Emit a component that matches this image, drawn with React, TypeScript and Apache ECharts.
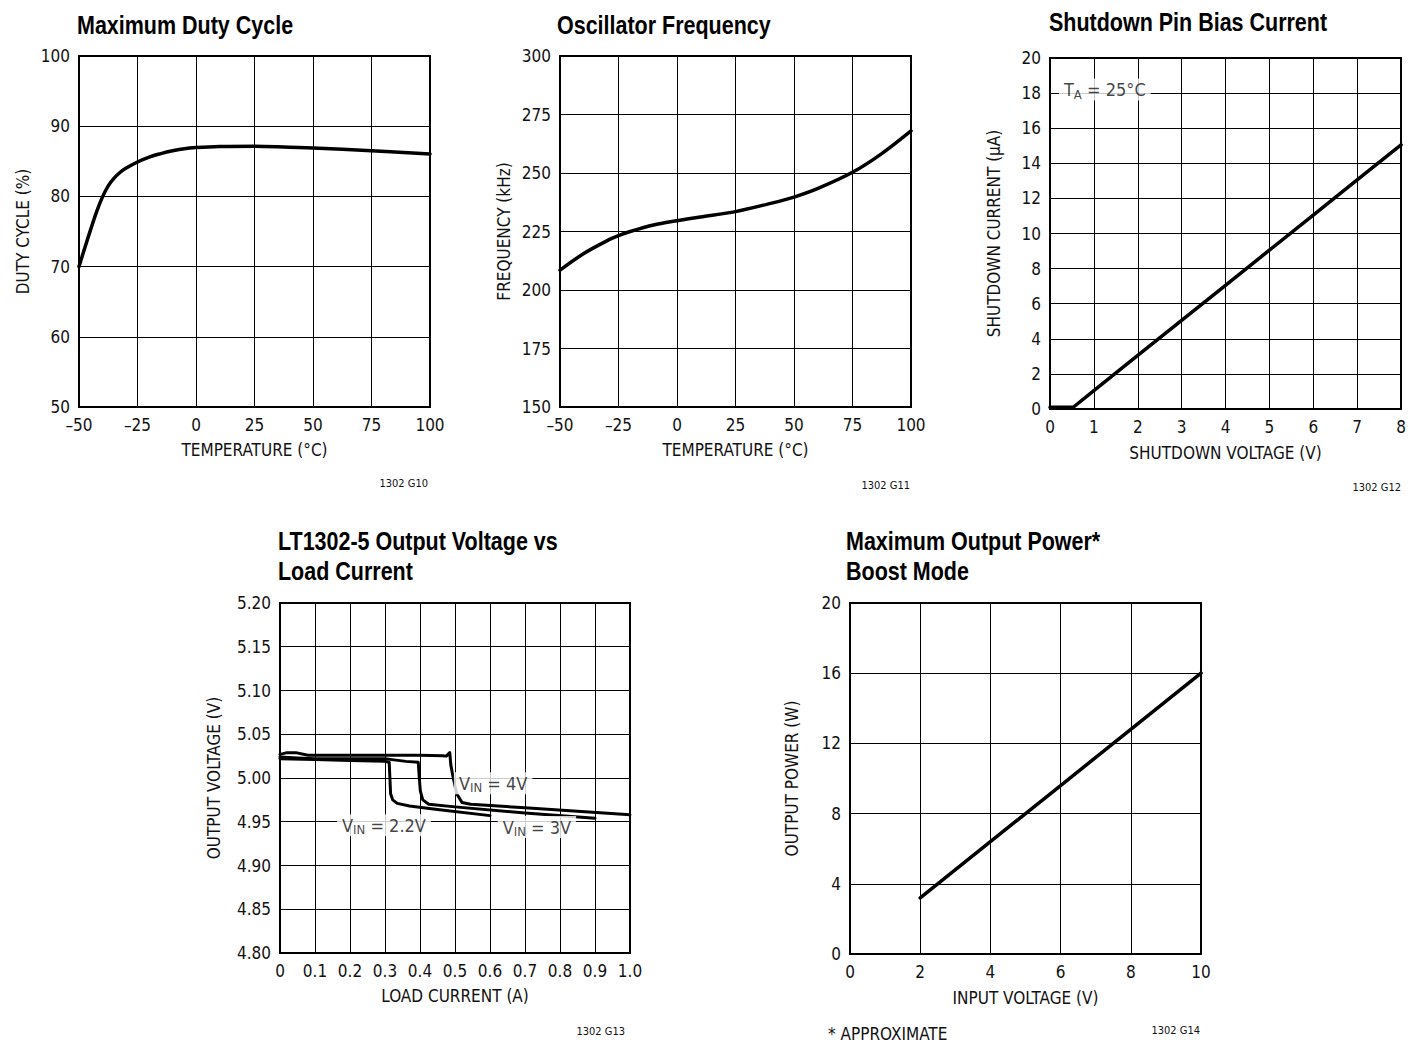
import { useEffect, useRef } from "react";
import * as echarts from "echarts";

const FONT = '"DejaVu Sans Condensed", "Liberation Sans Narrow", "Arial Narrow", sans-serif';
const TITLE_FONT = '"Liberation Sans", Arial, Helvetica, sans-serif';
const INK = "#111";

// Maximum duty cycle vs temperature
const dutyTemp = [-50, -47.5, -45, -42.5, -40, -37.5, -35, -32.5, -30, -25, -20, -15, -10, -5, 0, 10, 25, 40, 50, 75, 100];
const dutyCycle = [70, 72.7, 75.3, 77.8, 79.9, 81.5, 82.6, 83.4, 84.0, 84.9, 85.6, 86.1, 86.5, 86.8, 86.95, 87.1, 87.15, 87.0, 86.9, 86.5, 86.05];

// Oscillator frequency vs temperature
const oscTemp = [-50, -40, -30, -25, -20, -10, 0, 10, 25, 40, 50, 60, 75, 87.5, 100];
const oscFreq = [208.5, 215.5, 221, 223.2, 225, 227.8, 229.6, 231.2, 233.5, 237, 239.7, 243.3, 250.3, 258.3, 268];

// Shutdown pin bias current vs shutdown voltage
const sdVolt = [0, 0.53, 1, 2, 3, 4, 5, 6, 7, 8];
const sdCurrent = [0.1, 0.1, 1.05, 3.05, 5.05, 7.05, 9.05, 11.05, 13.05, 15.05];

// LT1302-5 output voltage vs load current
const load22 = [0, 0.1, 0.2, 0.3, 0.312, 0.314, 0.316, 0.322, 0.335, 0.37, 0.45, 0.6];
const vout22 = [5.022, 5.021, 5.02, 5.019, 5.018, 5.0, 4.982, 4.975, 4.971, 4.968, 4.964, 4.957];
const load3 = [0, 0.05, 0.1, 0.2, 0.3, 0.32, 0.36, 0.395, 0.398, 0.401, 0.408, 0.425, 0.5, 0.7, 0.9];
const vout3 = [5.024, 5.023, 5.022, 5.022, 5.022, 5.021, 5.019, 5.018, 5.0, 4.985, 4.975, 4.97, 4.967, 4.96, 4.954];
const load4 = [0, 0.02, 0.045, 0.08, 0.2, 0.3, 0.4, 0.465, 0.475, 0.485, 0.488, 0.495, 0.505, 0.52, 0.545, 0.7, 0.85, 1.0];
const vout4 = [5.027, 5.029, 5.029, 5.026, 5.026, 5.026, 5.026, 5.0255, 5.025, 5.029, 5.015, 5.0, 4.982, 4.972, 4.97, 4.966, 4.962, 4.958];

// Maximum output power (boost mode) vs input voltage
const boostVin = [2, 4, 6, 8, 10];
const boostPower = [3.2, 6.4, 9.6, 12.8, 16.0];

// Curve annotations
const vinLabelX = [0.609, 0.297, 0.734];
const vinLabelY = [4.994, 4.946, 4.944];
const vinLabelText = ["4V", "2.2V", "3V"];
const taLabel = [1.25, 18.2];

const zip = (xs: number[], ys: number[]) => xs.map((x, i) => [x, ys[i]]);

const minusFmt = (v: number) => (v < 0 ? "\u2013" + Math.abs(v) : String(v));

function App() {
  const ref = useRef<HTMLDivElement>(null);

  useEffect(() => {
    if (!ref.current) return;
    const chart = echarts.init(ref.current, undefined, { renderer: "svg" });

    const grids = [
      { left: 79, top: 56, width: 351, height: 351 },
      { left: 560, top: 56, width: 351, height: 351 },
      { left: 1050, top: 58, width: 351, height: 351 },
      { left: 280, top: 603, width: 350, height: 350 },
      { left: 850, top: 603, width: 351, height: 351 },
    ].map((g) => ({ ...g, show: true, borderColor: "#000", borderWidth: 2, backgroundColor: "transparent" }));

    const axis = (
      gridIndex: number,
      min: number,
      max: number,
      interval: number,
      name: string,
      nameGap: number,
      formatter?: (v: number) => string
    ) => ({
      type: "value",
      gridIndex,
      min,
      max,
      interval,
      name,
      nameLocation: "middle",
      nameGap,
      nameTextStyle: { color: INK, fontFamily: FONT, fontSize: 17 },
      axisLine: { show: false },
      axisTick: { show: false },
      splitLine: { show: true, lineStyle: { color: "#000", width: 1 } },
      axisLabel: { color: INK, fontFamily: FONT, fontSize: 17, margin: 9, formatter },
    });

    const xAxis = [
      axis(0, -50, 100, 25, "TEMPERATURE (\u00B0C)", 34, minusFmt),
      axis(1, -50, 100, 25, "TEMPERATURE (\u00B0C)", 34, minusFmt),
      axis(2, 0, 8, 1, "SHUTDOWN VOLTAGE (V)", 35),
      axis(3, 0, 1, 0.1, "LOAD CURRENT (A)", 34, (v: number) => (v === 0 ? "0" : v.toFixed(1))),
      axis(4, 0, 10, 2, "INPUT VOLTAGE (V)", 35),
    ];
    const yAxis = [
      axis(0, 50, 100, 10, "DUTY CYCLE (%)", 48),
      axis(1, 150, 300, 25, "FREQUENCY (kHz)", 48),
      axis(2, 0, 20, 2, "SHUTDOWN CURRENT (\u00B5A)", 48),
      axis(3, 4.8, 5.2, 0.05, "OUTPUT VOLTAGE (V)", 58, (v: number) => v.toFixed(2)),
      axis(4, 0, 20, 4, "OUTPUT POWER (W)", 50),
    ];

    const curve = (idx: number, data: number[][], width: number, smooth: boolean | number) => ({
      type: "line",
      xAxisIndex: idx,
      yAxisIndex: idx,
      data,
      smooth,
      symbol: "none",
      silent: true,
      lineStyle: { color: "#000", width, cap: "round", join: "round" },
      z: 3,
    });

    const subRich = {
      t: { fontFamily: FONT, fontSize: 18, color: INK, lineHeight: 22 },
      s: { fontFamily: FONT, fontSize: 13, color: INK, lineHeight: 22, padding: [9, 0, 0, 0] },
    };

    const annot = (idx: number, data: number[][], texts: string[], pattern: string) => ({
      type: "scatter",
      xAxisIndex: idx,
      yAxisIndex: idx,
      symbolSize: 0,
      silent: true,
      z: 5,
      data: data.map((d, i) => ({ value: d, name: texts[i] })),
      label: {
        show: true,
        position: "inside",
        backgroundColor: "#fff",
        padding: [0, 5],
        formatter: (p: any) => pattern.replace("%s", p.name),
        rich: subRich,
      },
    });

    const series = [
      curve(0, zip(dutyTemp, dutyCycle), 3.5, 0.4),
      curve(1, zip(oscTemp, oscFreq), 3.5, 0.3),
      curve(2, zip(sdVolt, sdCurrent), 3.5, false),
      curve(3, zip(load22, vout22), 3, false),
      curve(3, zip(load3, vout3), 3, false),
      curve(3, zip(load4, vout4), 3, false),
      curve(4, zip(boostVin, boostPower), 3.5, false),
      annot(3, zip(vinLabelX, vinLabelY), vinLabelText, "{t|V}{s|IN}{t| = %s}"),
      annot(2, [taLabel], ["25\u00B0C"], "{t|T}{s|A}{t| = %s}"),
    ];

    // Bold condensed headings: a regular sans drawn narrower
    const heading = (text: string, x: number, y: number) => ({
      type: "text",
      x,
      y,
      scaleX: 0.86,
      silent: true,
      style: { text, font: `bold 25px ${TITLE_FONT}`, fill: "#000", align: "left", verticalAlign: "middle" },
    });
    const note = (text: string, x: number, y: number, size: number, align = "left") => ({
      type: "text",
      x,
      y,
      silent: true,
      style: { text, font: `${size}px ${FONT}`, fill: INK, align, verticalAlign: "middle" },
    });

    const graphic = [
      heading("Maximum Duty Cycle", 77, 25),
      heading("Oscillator Frequency", 557, 25),
      heading("Shutdown Pin Bias Current", 1049, 22),
      heading("LT1302-5 Output Voltage vs", 278, 541),
      heading("Load Current", 278, 571),
      heading("Maximum Output Power*", 846, 541),
      heading("Boost Mode", 846, 571),
      note("1302 G10", 428, 483, 11, "right"),
      note("1302 G11", 910, 485, 11, "right"),
      note("1302 G12", 1401, 487, 11, "right"),
      note("1302 G13", 625, 1031, 11, "right"),
      note("1302 G14", 1200, 1030, 11, "right"),
      note("* APPROXIMATE", 828, 1034, 17),
    ];

    chart.setOption({
      animation: false,
      backgroundColor: "#fff",
      textStyle: { fontFamily: FONT },
      grid: grids,
      xAxis,
      yAxis,
      series,
      graphic,
    });

    return () => chart.dispose();
  }, []);

  return (
    <div
      ref={ref}
      style={{ position: "absolute", left: 0, top: 0, width: 1409, height: 1044, background: "#fff" }}
    />
  );
}

export default App;
